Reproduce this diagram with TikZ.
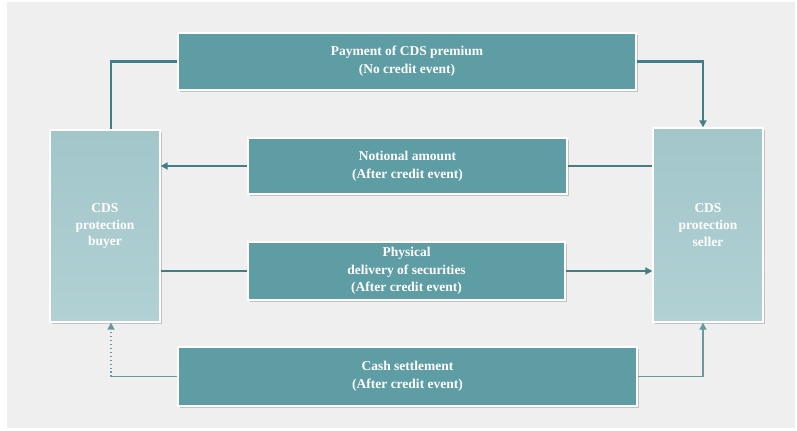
\documentclass[tikz,border=0pt]{standalone}
\usepackage{fontspec}
\setmainfont{Liberation Serif}
\usetikzlibrary{arrows.meta,shadows}
\definecolor{panelgray}{HTML}{EFEFEF}
\definecolor{tealbox}{HTML}{5F9DA4}
\definecolor{tealside}{HTML}{A2C6CA}
\definecolor{tealsidelow}{HTML}{B1D1D4}
\definecolor{tealline}{HTML}{437E85}

\begin{document}
\begin{tikzpicture}[x=0.025cm,y=-0.025cm,
	flowbox/.style={draw=white,line width=0.9pt,fill=tealbox,text=white,align=center,
		font=\bfseries\fontsize{9.6}{12.6}\selectfont,inner sep=0,
		drop shadow={opacity=0.4,shadow xshift=0.05cm,shadow yshift=-0.05cm}},
	partybox/.style={flowbox,top color=tealside,bottom color=tealsidelow,
		minimum width=2.75cm,font=\bfseries\fontsize{9.6}{11.8}\selectfont},
	flow/.style={draw=tealline,line width=1.8pt},
	settle/.style={draw=tealline!80,line width=0.8pt},
	tip/.style={-{Triangle[length=5pt,width=5pt]}}]
	\useasboundingbox (0,0) rectangle (797,430);
	\fill[white] (0,0) rectangle (797,430);
	\fill[panelgray] (7,2) rectangle (795,428);
	% the two parties
	\node[partybox,minimum height=4.8cm] (buyer) at (105,226) {CDS\\protection\\buyer};
	\node[partybox,minimum height=4.85cm] (seller) at (708,225) {CDS\\protection\\seller};
	% the flows between them
	\node[flowbox,minimum width=11.45cm,minimum height=1.425cm] (premium) at (407,61.5) {Payment of CDS premium\\(No credit event)};
	\node[flowbox,minimum width=7.975cm,minimum height=1.4cm] (notional) at (407.5,166) {Notional amount\\(After credit event)};
	\node[flowbox,minimum width=7.925cm,minimum height=1.45cm] (physical) at (406.5,271) {Physical\\delivery of securities\\(After credit event)};
	\node[flowbox,minimum width=11.475cm,minimum height=1.475cm] (cash) at (407.5,376.5) {Cash settlement\\(After credit event)};
	\draw[flow] (premium.west) -| ([xshift=0.15cm]buyer.north);
	\draw[flow,tip] (premium.east) -| ([xshift=-0.125cm]seller.north);
	\draw[flow,tip] (notional.west) -- (notional.west -| buyer.east);
	\draw[flow] (notional.east) -- (notional.east -| seller.west);
	\draw[flow] (physical.west -| buyer.east) -- (physical.west);
	\draw[flow,tip] (physical.east) -- (physical.east -| seller.west);
	% cash settlement, dotted on the buyer side
	\coordinate (buyerfoot) at ([xshift=0.15cm]buyer.south);
	\coordinate (bend) at (cash.west -| buyerfoot);
	\draw[settle] (cash.west) -- (bend);
	\draw[settle,dotted,line width=1.1pt,tip] (bend) -- (buyerfoot);
	\draw[settle,tip] (cash.east) -| ([xshift=-0.125cm]seller.south);
\end{tikzpicture}
\end{document}
